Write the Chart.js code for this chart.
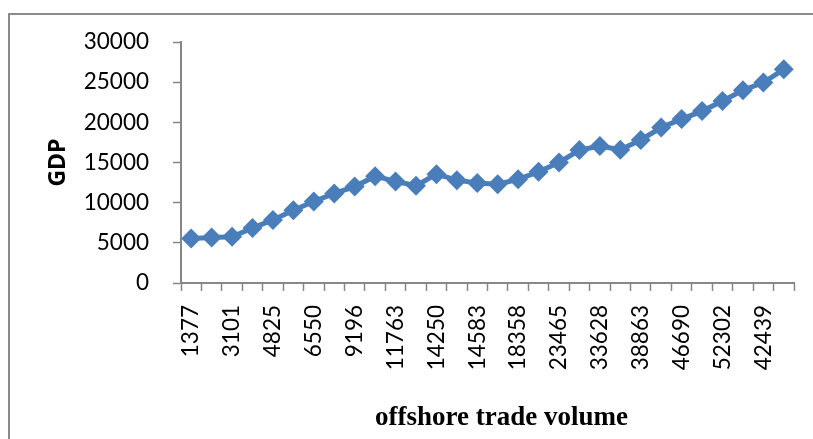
<!DOCTYPE html>
<html lang="en">
<head>
  <meta charset="UTF-8">
  <title>GDP vs offshore trade volume</title>
  <script src="https://cdn.jsdelivr.net/npm/chart.js"></script>
  <style>
    html, body {
      margin: 0;
      padding: 0;
      background: #fff;
      overflow: hidden;
      font-family: Lato, sans-serif;
    }
    .frame {
      position: absolute;
      left: 8px;
      top: 13px;
      width: 900px;
      height: 500px;
      border-left: 2px solid #8a8a8a;
      border-top: 2px solid #8a8a8a;
    }
    .chart-box {
      position: absolute;
      left: 0;
      top: 0;
      width: 813px;
      height: 439px;
    }
  </style>
</head>
<body>
  <div class="frame"></div>
  <div class="chart-box">
    <canvas id="lineChart"></canvas>
  </div>

  <script>
    // offshore trade volume (every other label is shown on the axis)
    const tradeVolume = [
      '1377', '2210', '3101', '3960', '4825', '5640', '6550', '7820',
      '9196', '10420', '11763', '13010', '14250', '14410', '14583', '16390',
      '18358', '20840', '23465', '28210', '33628', '36150', '38863', '42570',
      '46690', '49380', '52302', '47450', '42439', '46810'
    ];
    const gdp = [
      5550, 5650, 5750, 6850, 7850, 9050, 10150, 11150,
      12000, 13300, 12650, 12100, 13550, 12800, 12450, 12300,
      12900, 13850, 15000, 16550, 17050, 16600, 17800, 19350,
      20400, 21400, 22650, 24000, 24950, 26600
    ];
    const yTicks = { min: 0, max: 30000, step: 5000 };
    const xTitle = 'offshore trade volume';

    const blue = '#4a7ebb';
    const axisGrey = '#878787';
    const serif = '"Liberation Serif", "Times New Roman", serif';

    // x axis caption sits a little right of the plot centre, like the original
    const xCaption = {
      id: 'xCaption',
      afterDraw(chart) {
        const { ctx, chartArea } = chart;
        ctx.save();
        ctx.font = 'bold 27px ' + serif;
        ctx.fillStyle = '#000';
        ctx.textAlign = 'center';
        ctx.textBaseline = 'middle';
        ctx.fillText(xTitle, (chartArea.left + chartArea.right) / 2 + 14, 418);
        ctx.restore();
      }
    };

    function drawChart() {
      new Chart(document.getElementById('lineChart').getContext('2d'), {
        type: 'line',
        data: {
          labels: tradeVolume,
          datasets: [{
            label: 'GDP',
            data: gdp,
            borderColor: blue,
            backgroundColor: blue,
            borderWidth: 5,
            pointStyle: 'rectRot',
            pointRadius: 10,
            pointBackgroundColor: blue,
            pointBorderColor: blue,
            pointBorderWidth: 0,
            tension: 0,
            fill: false
          }]
        },
        plugins: [xCaption],
        options: {
          responsive: true,
          maintainAspectRatio: false,
          animation: false,
          layout: { padding: { left: 45, top: 42, right: 19, bottom: 8 } },
          plugins: {
            legend: { display: false },
            tooltip: { enabled: false }
          },
          scales: {
            x: {
              offset: true,
              afterFit: (scale) => {
                scale.height = 148;
                scale.paddingLeft = 0;
                scale.paddingRight = 0;
              },
              grid: {
                offset: true,
                drawOnChartArea: false,
                drawTicks: true,
                tickLength: 8,
                tickColor: axisGrey,
                tickWidth: 1.5
              },
              border: { color: axisGrey, width: 2 },
              ticks: {
                autoSkip: false,
                maxRotation: 90,
                minRotation: 90,
                padding: 14,
                color: '#000',
                font: { family: 'Lato', size: 22.5 },
                callback: function (val, i) {
                  return i % 2 === 0 ? this.getLabelForValue(val) : '';
                }
              }
            },
            y: {
              min: yTicks.min,
              max: yTicks.max,
              afterFit: (scale) => { scale.width = 136; },
              grid: {
                drawOnChartArea: false,
                drawTicks: true,
                tickLength: 8,
                tickColor: axisGrey,
                tickWidth: 1.5
              },
              border: { color: axisGrey, width: 2 },
              ticks: {
                stepSize: yTicks.step,
                padding: 24,
                color: '#000',
                font: { family: 'Lato', size: 22.5 },
                callback: (v) => String(v)
              },
              title: {
                display: true,
                text: 'GDP',
                color: '#000',
                padding: 0,
                font: { family: '"Open Sans", sans-serif', size: 23, weight: 'bold' }
              }
            }
          }
        }
      });
    }

    Promise.all([
      document.fonts.load('22px Lato'),
      document.fonts.load('bold 27px "Liberation Serif"'),
      document.fonts.load('bold 23px "Open Sans"')
    ]).then(drawChart, drawChart);
  </script>
</body>
</html>
